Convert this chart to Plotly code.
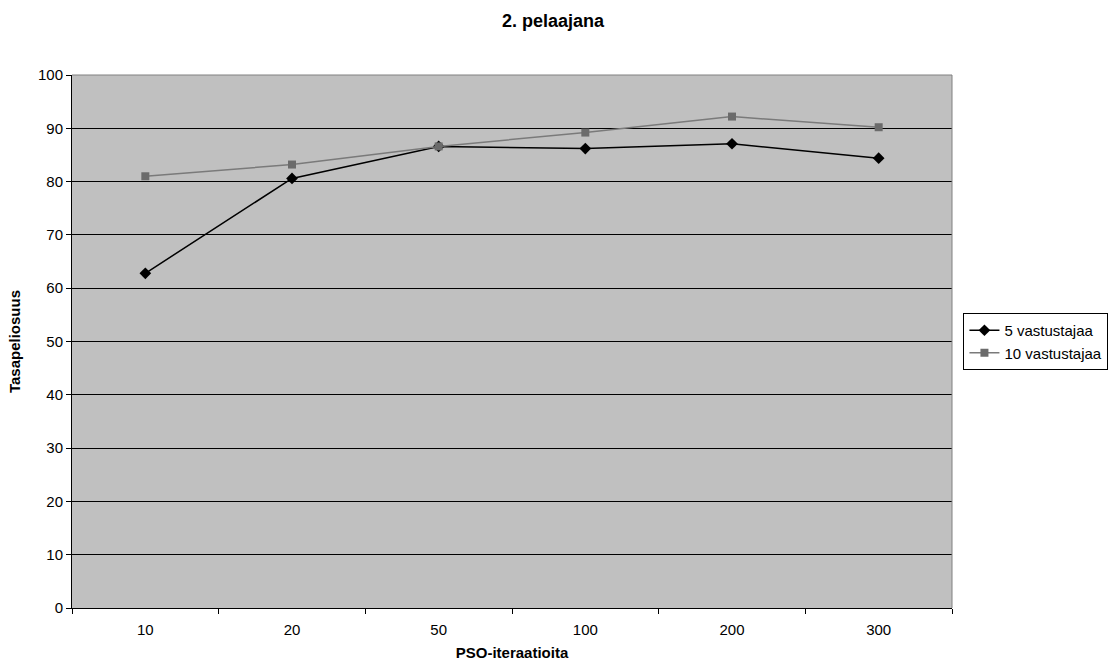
import plotly.graph_objects as go

categories = ["10", "20", "50", "100", "200", "300"]
vastustajaa_5 = [62.8, 80.6, 86.6, 86.2, 87.1, 84.4]
vastustajaa_10 = [81.0, 83.2, 86.6, 89.2, 92.2, 90.2]
y_ticks = [0, 10, 20, 30, 40, 50, 60, 70, 80, 90, 100]

FONT = "Liberation Sans, Arial, sans-serif"

fig = go.Figure()
fig.add_trace(go.Scatter(
    x=categories, y=vastustajaa_5, name="5 vastustajaa",
    mode="lines+markers",
    line=dict(color="black", width=1.5),
    marker=dict(symbol="diamond", size=9, color="black"),
))
fig.add_trace(go.Scatter(
    x=categories, y=vastustajaa_10, name="10 vastustajaa",
    mode="lines+markers",
    line=dict(color="#7a7a7a", width=1.5),
    marker=dict(symbol="square", size=8, color="#6b6b6b"),
))

fig.update_layout(
    width=1118, height=665,
    margin=dict(l=72, r=166, t=75, b=57, autoexpand=False),
    paper_bgcolor="white",
    plot_bgcolor="#c0c0c0",
    font=dict(family=FONT, size=15, color="black"),
    title=dict(text="<b>2. pelaajana</b>", x=553 / 1118, xref="container", xanchor="center",
               y=1 - 21 / 665, yref="container", yanchor="middle",
               font=dict(size=18, family=FONT)),
    showlegend=True,
    legend=dict(x=1.013, xanchor="left", y=0.5, yanchor="middle",
                bordercolor="black", borderwidth=1, bgcolor="white",
                font=dict(size=15, family=FONT), tracegroupgap=0,
                itemwidth=30),
)

fig.update_xaxes(
    type="category", categoryorder="array", categoryarray=categories,
    range=[-0.5, len(categories) - 0.5], automargin=False,
    tickson="boundaries", ticks="outside", ticklen=5, tickcolor="black",
    ticklabelstandoff=8,
    showline=True, linecolor="black", linewidth=1, mirror=False,
    showgrid=False, zeroline=False,
    tickfont=dict(size=15, family=FONT),
    title=dict(text="<b>PSO-iteraatioita</b>", font=dict(size=15, family=FONT), standoff=10),
)
fig.update_yaxes(
    range=[0, 100], tickvals=y_ticks, automargin=False,
    ticks="outside", ticklen=5, tickcolor="black",
    showline=True, linecolor="black", linewidth=1,
    showgrid=True, gridcolor="black", gridwidth=1, zeroline=False,
    tickfont=dict(size=15, family=FONT),
    title=dict(text="<b>Tasapeliosuus</b>", font=dict(size=15, family=FONT), standoff=13),
)

# grey frame on the top and right of the plot area
fig.add_shape(type="line", xref="paper", yref="paper", x0=0, x1=1, y0=1, y1=1,
              line=dict(color="#808080", width=1))
fig.add_shape(type="line", xref="paper", yref="paper", x0=1, x1=1, y0=0, y1=1,
              line=dict(color="#808080", width=1))

fig.write_html("out.html")
